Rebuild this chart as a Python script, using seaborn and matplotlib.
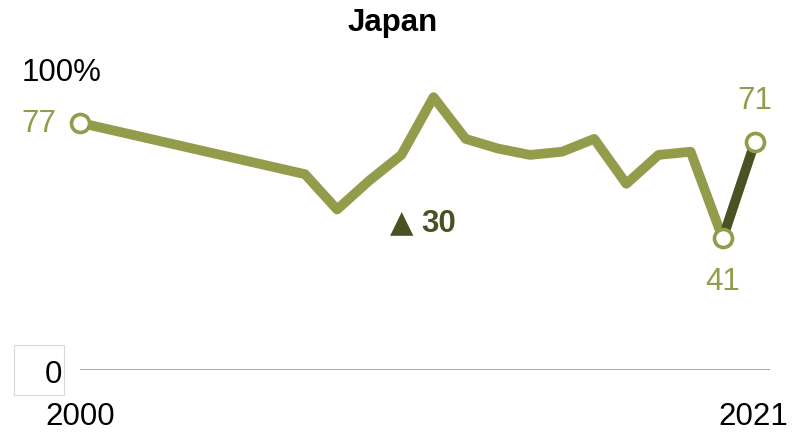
import pandas as pd
import matplotlib.pyplot as plt
import seaborn as sns
from matplotlib.patches import Rectangle

years = [2000, 2007, 2008, 2009, 2010, 2011, 2012, 2013, 2014, 2015, 2016, 2017, 2018, 2019, 2020, 2021]
values = [77, 61, 50, 59, 67, 85, 72, 69, 67, 68, 72, 58, 67, 68, 41, 71]
labeled_years = [2000, 2020, 2021]
change_label = "30"
country = "Japan"

green = "#939c4a"
dark = "#4a5224"

sns.set_theme(style="white")
plt.rcParams["font.family"] = ["Liberation Sans", "DejaVu Sans"]

df = pd.DataFrame({"year": years, "value": values})
last = df[df["year"] >= 2020]
marked = df[df["year"].isin(labeled_years)]

W, H = 798, 435
fig = plt.figure(figsize=(W / 100, H / 100), dpi=100)
ax = fig.add_axes([80 / W, 64 / H, 690 / W, 321 / H])

ax.axhline(0, color="#8c8c8c", lw=1.8, zorder=1)
sns.lineplot(data=df[df["year"] <= 2020], x="year", y="value", color=green, lw=7,
             ax=ax, zorder=2)
sns.lineplot(data=last, x="year", y="value", color=dark, lw=7, ax=ax, zorder=2)
ax.plot(marked["year"], marked["value"], "o", ms=13, mfc="white", mec=green,
        mew=2.6, zorder=3, clip_on=False)

ax.set_xlim(2000, 2021.47)
ax.set_ylim(0, 100)
ax.axis("off")

fs = 22.5
ax.text(1999.25, 77, "77", color=green, fontsize=fs, ha="right", va="center")
ax.text(2021, 79.5, "71", color=green, fontsize=fs, ha="center", va="bottom")
ax.text(2020, 32.5, "41", color=green, fontsize=fs, ha="center", va="top")
# change indicator: triangle drawn larger than the number
fig.text(402 / W, 1 - 224 / H, "▲", color=dark, fontsize=22, family="DejaVu Sans",
         ha="center", va="center")
fig.text(421 / W, 1 - 224 / H, change_label, color=dark, fontsize=fs, fontweight="bold",
         ha="left", va="center")

fig.text(22 / W, 1 - 73 / H, "100%", color="black", fontsize=fs, ha="left", va="center")
fig.patches.append(Rectangle((14 / W, 1 - 396 / H), 50 / W, 50 / H, transform=fig.transFigure,
                             fc="none", ec="#d9d9d9", lw=0.8))
fig.text(62 / W, 1 - 375 / H, "0", color="black", fontsize=fs, ha="right", va="center")
fig.text(80 / W, 1 - 417 / H, "2000", color="black", fontsize=fs, ha="center", va="center")
fig.text(753 / W, 1 - 417 / H, "2021", color="black", fontsize=fs, ha="center", va="center")
fig.text(393 / W, 1 - 23 / H, country, color="black", fontsize=fs, fontweight="bold",
         ha="center", va="center")

fig.savefig("out.png", dpi=100)
